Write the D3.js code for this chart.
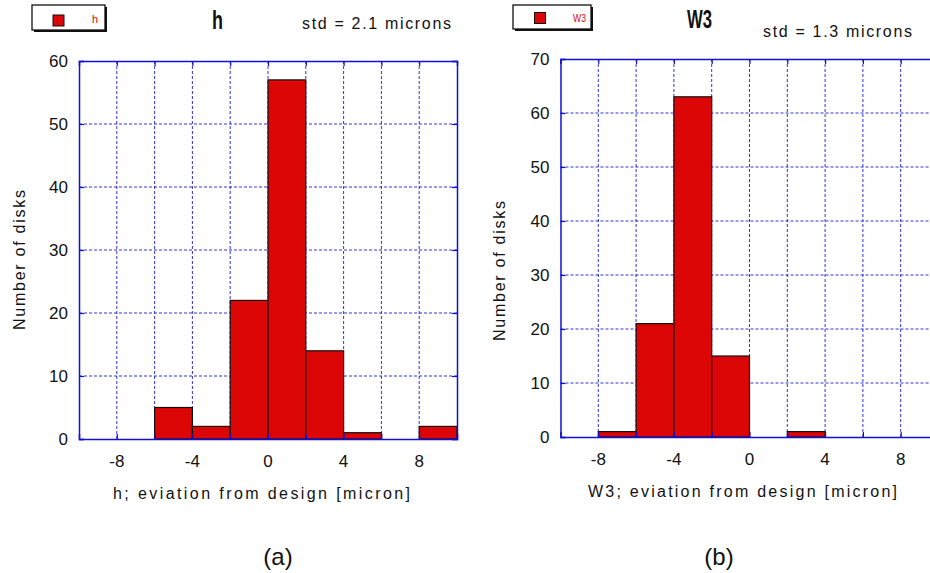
<!DOCTYPE html>
<html>
<head>
<meta charset="utf-8">
<script src="https://cdn.jsdelivr.net/npm/d3@7"></script>
<style>
  html, body { margin: 0; padding: 0; background: #fff; }
  svg { display: block; }
  text { font-family: "Liberation Sans", Arial, sans-serif; fill: #111; }
</style>
</head>
<body>
<svg id="chart" width="930" height="573"></svg>
<script>
// Histogram bins: left edge of each 2-micron bin
const binStarts = [-10, -8, -6, -4, -2, 0, 2, 4, 6, 8];
const binWidth = 2;
// Counts per bin
const countsH  = [0, 0, 5, 2, 22, 57, 14, 1, 0, 2];
const countsW3 = [0, 1, 21, 63, 15, 0, 1, 0, 0, 0];
// Axis ticks
const xTickLabels = [-8, -4, 0, 4, 8];
const xGridValues = [-8, -6, -4, -2, 0, 2, 4, 6, 8];
const yTicksH  = [0, 10, 20, 30, 40, 50, 60];
const yTicksW3 = [0, 10, 20, 30, 40, 50, 60, 70];

const svg = d3.select("#chart");
const BLUE = "#1010d8";
const RED = "#dd0606";

function panel(opt) {
  const x = d3.scaleLinear().domain([-10, 10]).range([opt.left, opt.left + 378]);
  const y = d3.scaleLinear().domain([0, opt.yMax]).range([opt.bottom, opt.top]);
  const g = svg.append("g");

  // dotted grid
  g.append("g").selectAll("line").data(xGridValues).join("line")
    .attr("x1", d => x(d)).attr("x2", d => x(d))
    .attr("y1", opt.top).attr("y2", opt.bottom)
    .attr("stroke", BLUE).attr("stroke-width", 1).attr("stroke-dasharray", "3,2").attr("opacity", 0.85);
  g.append("g").selectAll("line").data(opt.yTicks.slice(1, -1)).join("line")
    .attr("x1", opt.left).attr("x2", x(10))
    .attr("y1", d => y(d)).attr("y2", d => y(d))
    .attr("stroke", BLUE).attr("stroke-width", 1).attr("stroke-dasharray", "3,2").attr("opacity", 0.85);

  // bars
  g.append("g").selectAll("rect").data(binStarts.map((b, i) => ({b, c: opt.counts[i]})).filter(d => d.c > 0))
    .join("rect")
    .attr("x", d => x(d.b)).attr("width", d => x(d.b + binWidth) - x(d.b))
    .attr("y", d => y(d.c)).attr("height", d => y(0) - y(d.c))
    .attr("fill", RED).attr("stroke", "#111").attr("stroke-width", 1.2);

  // axes with inward ticks
  const xAxisB = d3.axisBottom(x).tickValues(xGridValues).tickSize(-5).tickFormat("");
  const xAxisT = d3.axisTop(x).tickValues(xGridValues).tickSize(-5).tickFormat("");
  const yAxisL = d3.axisLeft(y).tickValues(opt.yTicks).tickSize(-5).tickFormat("");
  const yAxisR = d3.axisRight(y).tickValues(opt.yTicks).tickSize(-5).tickFormat("");
  [[xAxisB, `translate(0,${opt.bottom})`], [xAxisT, `translate(0,${opt.top})`],
   [yAxisL, `translate(${opt.left},0)`], [yAxisR, `translate(${x(10)},0)`]].forEach(([ax, tr]) => {
    const a = g.append("g").attr("transform", tr).call(ax);
    a.selectAll("path").attr("stroke", BLUE).attr("stroke-width", 1.5);
    a.selectAll("line").attr("stroke", BLUE).attr("stroke-width", 1.2);
  });

  // tick labels
  g.append("g").selectAll("text").data(xTickLabels).join("text")
    .attr("x", d => x(d)).attr("y", opt.bottom + 28)
    .attr("text-anchor", "middle").attr("font-size", 17).text(d => d);
  g.append("g").selectAll("text").data(opt.yTicks).join("text")
    .attr("x", opt.left - 11).attr("y", d => y(d) + 6)
    .attr("text-anchor", "end").attr("font-size", 17).text(d => d);

  // axis titles
  g.append("text").attr("x", opt.xTitleX).attr("y", opt.bottom + 60)
    .attr("font-size", 16).attr("textLength", opt.xTitleLen).attr("lengthAdjust", "spacing")
    .text(opt.xTitle);
  g.append("text")
    .attr("transform", `translate(${opt.yTitleX},${opt.yTitleY}) rotate(-90)`)
    .attr("text-anchor", "middle").attr("font-size", 16)
    .attr("textLength", 140).attr("lengthAdjust", "spacing")
    .text("Number of disks");

  // title and std annotation
  g.append("text").attr("x", opt.titleX).attr("y", opt.titleY)
    .attr("font-size", 25).attr("font-weight", "bold")
    .attr("textLength", opt.titleLen).attr("lengthAdjust", "spacingAndGlyphs")
    .text(opt.title);
  g.append("text").attr("x", opt.stdX).attr("y", opt.stdY)
    .attr("font-size", 16).attr("textLength", 149).attr("lengthAdjust", "spacing")
    .text(opt.std);

  // legend box with drop shadow
  const lg = opt.legend;
  g.append("rect").attr("x", lg.x + 2).attr("y", lg.y + 2).attr("width", lg.w).attr("height", lg.h).attr("fill", "#111");
  g.append("rect").attr("x", lg.x).attr("y", lg.y).attr("width", lg.w).attr("height", lg.h)
    .attr("fill", "#fff").attr("stroke", "#111").attr("stroke-width", 1.3);
  g.append("rect").attr("x", lg.sx).attr("y", lg.sy).attr("width", 11).attr("height", 11)
    .attr("fill", RED).attr("stroke", "#111").attr("stroke-width", 1);
  g.append("text").attr("x", lg.tx).attr("y", lg.ty).attr("font-size", 11)
    .style("fill", RED).attr("textLength", lg.tl).attr("lengthAdjust", "spacingAndGlyphs")
    .text(opt.title);

  // panel label
  g.append("text").attr("x", opt.capX).attr("y", 565).attr("text-anchor", "middle")
    .attr("font-size", 24).text(opt.cap);
}

panel({
  left: 79, top: 61, bottom: 439, yMax: 60, yTicks: yTicksH, counts: countsH,
  xTitle: "h; eviation from design [micron]", xTitleX: 113, xTitleLen: 297,
  yTitleX: 25, yTitleY: 260,
  title: "h", titleX: 212, titleY: 29, titleLen: 11,
  std: "std = 2.1 microns", stdX: 302, stdY: 29,
  legend: {x: 32, y: 5, w: 73, h: 25, sx: 53, sy: 15, tx: 92, ty: 23, tl: 6},
  cap: "(a)", capX: 278
});

panel({
  left: 560.5, top: 59, bottom: 437, yMax: 70, yTicks: yTicksW3, counts: countsW3,
  xTitle: "W3; eviation from design [micron]", xTitleX: 588, xTitleLen: 309,
  yTitleX: 505, yTitleY: 271,
  title: "W3", titleX: 687, titleY: 28, titleLen: 25,
  std: "std = 1.3 microns", stdX: 763, stdY: 37,
  legend: {x: 513, y: 5, w: 78, h: 24, sx: 534.5, sy: 12.5, tx: 573, ty: 22, tl: 13},
  cap: "(b)", capX: 719
});
</script>
</body>
</html>
